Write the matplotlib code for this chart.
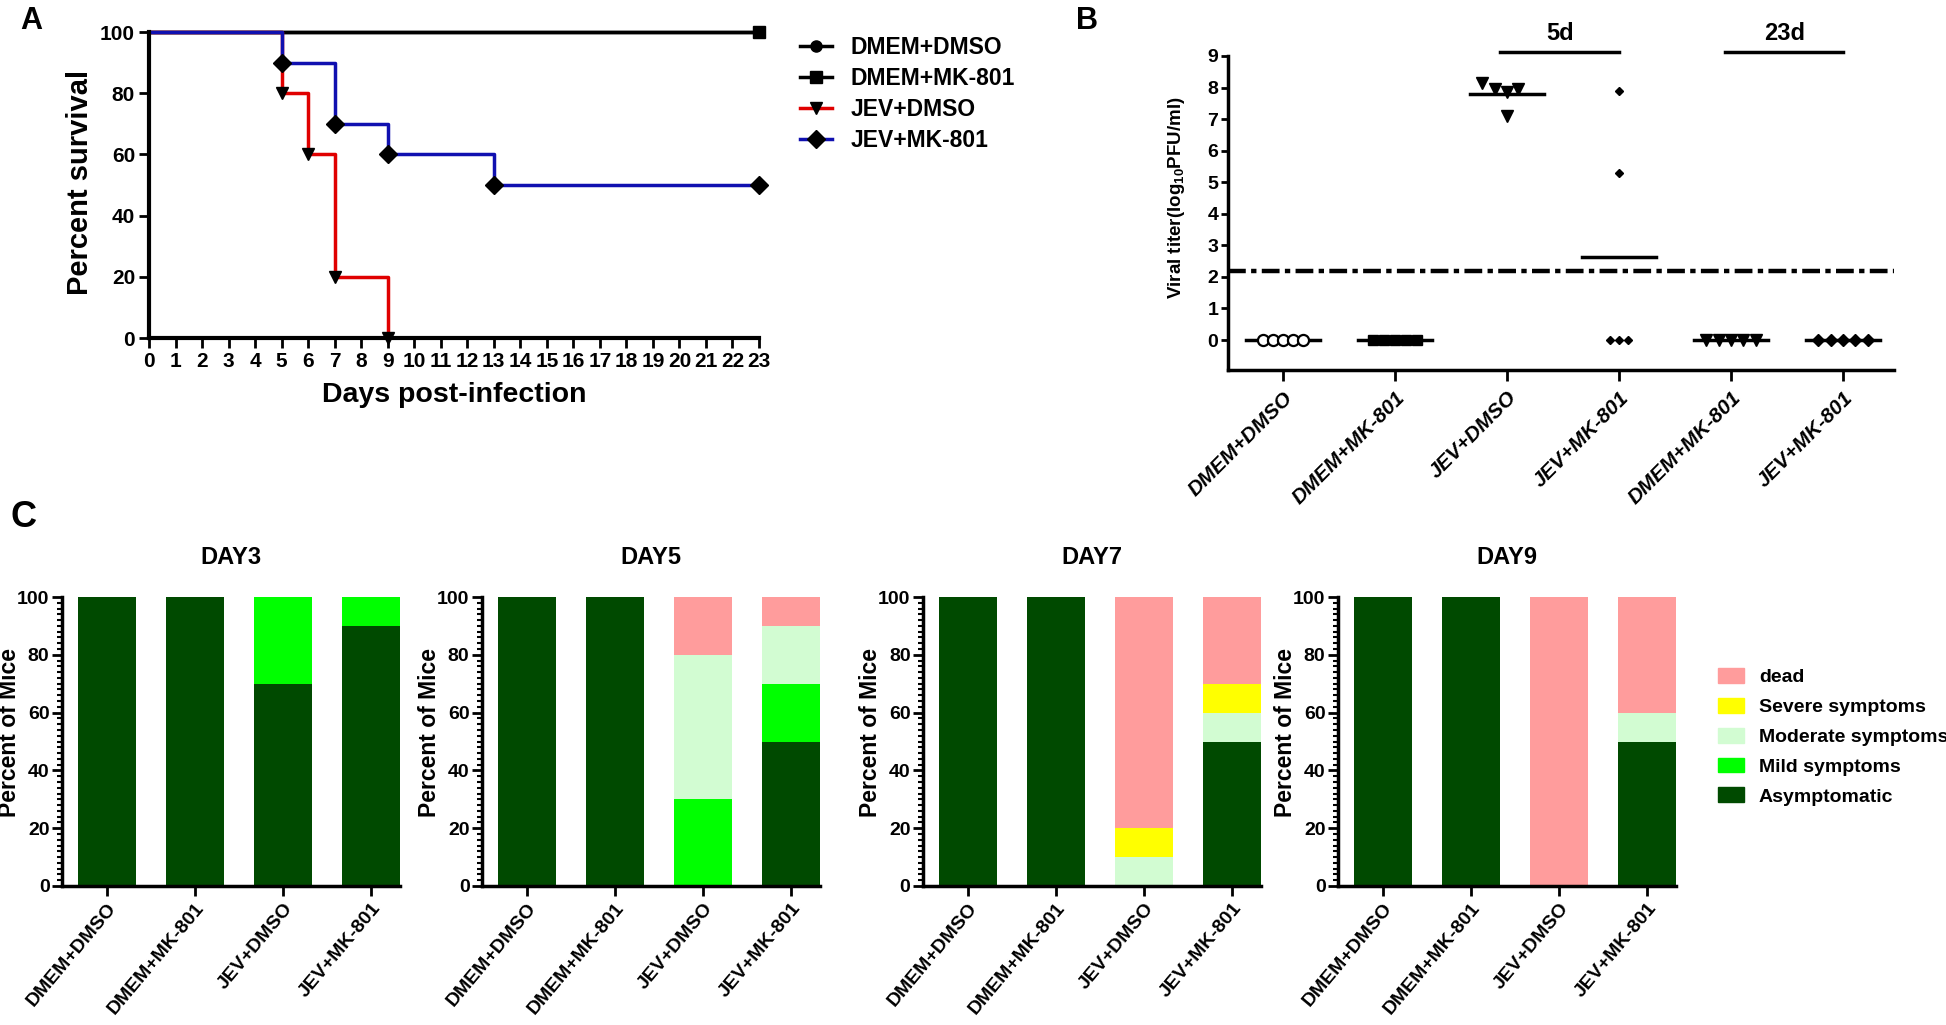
import matplotlib
matplotlib.use('Agg')
import matplotlib.pyplot as plt
import numpy as np
from matplotlib.patches import Patch
from matplotlib.lines import Line2D

plt.rcParams['font.family'] = 'Liberation Sans'
plt.rcParams['font.weight'] = 'bold'
plt.rcParams['axes.labelweight'] = 'bold'
plt.rcParams['axes.titleweight'] = 'bold'
plt.rcParams['mathtext.fontset'] = 'custom'
plt.rcParams['mathtext.rm'] = 'Liberation Sans:bold'
plt.rcParams['mathtext.bf'] = 'Liberation Sans:bold'

# ---- panel A: survival ----
surv_labels = ['DMEM+DMSO', 'DMEM+MK-801', 'JEV+DMSO', 'JEV+MK-801']
dmem_dmso_t = [0, 23]
dmem_dmso_s = [100, 100]
dmem_mk_t = [0, 23]
dmem_mk_s = [100, 100]
jev_dmso_t = [0, 5, 6, 7, 9]
jev_dmso_s = [100, 80, 60, 20, 0]
jev_mk_t = [0, 5, 7, 9, 13, 23]
jev_mk_s = [100, 90, 70, 60, 50, 50]

# ---- panel B: viral titer ----
titer_groups = ['DMEM+DMSO', 'DMEM+MK-801', 'JEV+DMSO', 'JEV+MK-801', 'DMEM+MK-801', 'JEV+MK-801']
titer_dmem_dmso_5d = [0, 0, 0, 0, 0]
titer_dmem_mk_5d = [0, 0, 0, 0, 0]
titer_jev_dmso_5d = [8.15, 7.95, 7.85, 7.95, 7.1]
titer_jev_mk_5d = [7.9, 5.3, 0, 0, 0]
titer_dmem_mk_23d = [0, 0, 0, 0, 0]
titer_jev_mk_23d = [0, 0, 0, 0, 0]
detection_limit = 2.2

# ---- panel C: symptoms (rows = day, cols = group) ----
days = ['DAY3', 'DAY5', 'DAY7', 'DAY9']
groups = ['DMEM+DMSO', 'DMEM+MK-801', 'JEV+DMSO', 'JEV+MK-801']
asymptomatic = [[100, 100, 70, 90], [100, 100, 0, 50], [100, 100, 0, 50], [100, 100, 0, 50]]
mild = [[0, 0, 30, 10], [0, 0, 30, 20], [0, 0, 0, 0], [0, 0, 0, 0]]
moderate = [[0, 0, 0, 0], [0, 0, 50, 20], [0, 0, 10, 10], [0, 0, 0, 10]]
severe = [[0, 0, 0, 0], [0, 0, 0, 0], [0, 0, 10, 10], [0, 0, 0, 0]]
dead = [[0, 0, 0, 0], [0, 0, 20, 10], [0, 0, 80, 30], [0, 0, 100, 40]]
symptom_names = ['Asymptomatic', 'Mild symptoms', 'Moderate symptoms', 'Severe symptoms', 'dead']
symptom_colors = ['#004a00', '#00ff00', '#d2fcd2', '#ffff00', '#ff9c9c']

W, H = 1946, 1025


def box(l, t, r, b):
    return [l / W, 1 - b / H, (r - l) / W, (b - t) / H]


def bold_ticks(ax):
    for t in ax.get_xticklabels() + ax.get_yticklabels():
        t.set_fontweight('bold')


fig = plt.figure(figsize=(W / 100, H / 100), dpi=100)

# ================= A =================
axA = fig.add_axes(box(149, 32, 759, 338))
axA.step(dmem_dmso_t, dmem_dmso_s, where='post', color='black', lw=2.5, clip_on=False)
axA.step(dmem_mk_t, dmem_mk_s, where='post', color='black', lw=2.5, clip_on=False)
axA.step(jev_dmso_t, jev_dmso_s, where='post', color='#e00000', lw=2.5, clip_on=False)
axA.step(jev_mk_t, jev_mk_s, where='post', color='#1010b0', lw=2.5, clip_on=False)
axA.plot(dmem_dmso_t[1:], dmem_dmso_s[1:], 'o', color='black', ms=8, clip_on=False)
axA.plot(dmem_mk_t[1:], dmem_mk_s[1:], 's', color='black', ms=9, clip_on=False)
axA.plot(jev_dmso_t[1:], jev_dmso_s[1:], 'v', color='black', ms=9, clip_on=False, zorder=5)
axA.plot(jev_mk_t[1:], jev_mk_s[1:], 'D', color='black', ms=9, clip_on=False, zorder=5)
axA.set_xlim(0, 23)
axA.set_ylim(0, 100)
axA.set_xticks(range(24))
axA.set_yticks(range(0, 101, 20))
for s in ['top', 'right']:
    axA.spines[s].set_visible(False)
for s in ['left', 'bottom']:
    axA.spines[s].set_linewidth(3)
axA.tick_params(direction='out', length=7, width=2, labelsize=15, pad=3)
bold_ticks(axA)
axA.set_xlabel('Days post-infection', fontsize=20.5, labelpad=8)
axA.set_ylabel('Percent survival', fontsize=21, va='center')
axA.yaxis.set_label_coords(-0.113, 0.507)

handles = [
    Line2D([], [], color='black', lw=2.5, marker='o', ms=8),
    Line2D([], [], color='black', lw=2.5, marker='s', ms=9),
    Line2D([], [], color='#e00000', lw=2.5, marker='v', mfc='black', mec='black', ms=9),
    Line2D([], [], color='#1010b0', lw=2.5, marker='D', mfc='black', mec='black', ms=9),
]
fig.legend(handles, surv_labels, loc='upper left', bbox_to_anchor=(800 / W, 1 - 36 / H),
           frameon=False, fontsize=16.5, handlelength=1.4, handletextpad=0.8,
           labelspacing=0.35, borderpad=0, borderaxespad=0)

# ================= B =================
axB = fig.add_axes(box(1228, 56, 1894, 370))
series = [titer_dmem_dmso_5d, titer_dmem_mk_5d, titer_jev_dmso_5d,
          titer_jev_mk_5d, titer_dmem_mk_23d, titer_jev_mk_23d]
offsets = [[-0.18, -0.09, 0, 0.09, 0.18],
           [-0.2, -0.1, 0, 0.1, 0.2],
           [-0.22, -0.11, 0, 0.1, 0],
           [0, 0, -0.08, 0, 0.08],
           [-0.22, -0.11, 0, 0.11, 0.22],
           [-0.22, -0.11, 0, 0.11, 0.22]]
styles = [dict(marker='o', mfc='white', mec='black', ms=8, mew=1.6),
          dict(marker='s', color='black', ms=7),
          dict(marker='v', color='black', ms=8),
          dict(marker='D', color='black', ms=4.5),
          dict(marker='v', color='black', ms=8),
          dict(marker='D', color='black', ms=6)]
for i, vals in enumerate(series):
    m = np.mean(vals)
    axB.plot([i - 0.33, i + 0.33], [m, m], color='black', lw=2.5, zorder=2)
    axB.plot(np.array(offsets[i]) + i, vals, ls='none', zorder=3, **styles[i])
axB.axhline(detection_limit, color='black', lw=3.2, ls=(0, (4, 1.2, 1.2, 1.2)), zorder=1)
axB.set_xlim(-0.49, 5.455)
axB.set_ylim(-0.95, 9)
axB.set_yticks(range(0, 10))
axB.set_xticks(range(6))
axB.set_xticklabels(titer_groups, rotation=45, ha='right', rotation_mode='anchor',
                    style='italic', fontsize=15)
for s in ['top', 'right']:
    axB.spines[s].set_visible(False)
for s in ['left', 'bottom']:
    axB.spines[s].set_linewidth(2.5)
axB.tick_params(axis='y', direction='out', length=5, width=2, labelsize=14, pad=2)
axB.tick_params(axis='x', direction='out', length=8, width=2, pad=5)
bold_ticks(axB)
axB.set_ylabel(r'Viral titer(log$_{10}$PFU/ml)', fontsize=13.5, va='center')
axB.yaxis.set_label_coords(-0.078, 0.55)
for x0, x1, txt in [(1.94, 3.0, '5d'), (3.95, 5.0, '23d')]:
    axB.plot([x0, x1], [9.13, 9.13], color='black', lw=2.5, clip_on=False)
    axB.text((x0 + x1) / 2, 9.35, txt, ha='center', va='bottom', fontsize=17)

# ================= C =================
c_lefts = [62, 482, 923, 1338]
for d, day in enumerate(days):
    ax = fig.add_axes(box(c_lefts[d], 597, c_lefts[d] + 338, 886))
    x = np.arange(len(groups))
    bottom = np.zeros(len(groups))
    for layer, col in zip([asymptomatic, mild, moderate, severe, dead], symptom_colors):
        v = np.array(layer[d], dtype=float)
        ax.bar(x, v, 0.66, bottom=bottom, color=col, edgecolor='none')
        bottom += v
    ax.set_xlim(-0.51, 3.33)
    ax.set_ylim(0, 100)
    ax.set_yticks(range(0, 101, 20))
    ax.set_yticks(range(0, 101, 2), minor=True)
    ax.set_xticks(x)
    ax.set_xticklabels(groups, rotation=50, ha='right', rotation_mode='anchor', fontsize=14)
    for s in ['top', 'right']:
        ax.spines[s].set_visible(False)
    for s in ['left', 'bottom']:
        ax.spines[s].set_linewidth(2.5)
    ax.tick_params(axis='y', which='major', direction='out', length=7, width=2, labelsize=14, pad=2)
    ax.tick_params(axis='y', which='minor', direction='out', length=3.5, width=1.5)
    ax.tick_params(axis='x', direction='out', length=7, width=2, pad=3)
    bold_ticks(ax)
    ax.set_ylabel('Percent of Mice', fontsize=16.5, va='center')
    ax.yaxis.set_label_coords(-0.155, 0.53)
    ax.set_title(day, fontsize=17, pad=24)

leg_handles = [Patch(color=c) for c in symptom_colors][::-1]
fig.legend(leg_handles, symptom_names[::-1], loc='upper left', bbox_to_anchor=(1718 / W, 1 - 668 / H),
           frameon=False, fontsize=14, handlelength=1.35, handleheight=0.8, handletextpad=0.75,
           labelspacing=0.6, borderpad=0, borderaxespad=0)

fig.text(20 / W, 1 - 6 / H, 'A', fontsize=22, va='top', ha='left')
fig.text(1076 / W, 1 - 6 / H, 'B', fontsize=22, va='top', ha='left')
fig.text(11 / W, 1 - 500 / H, 'C', fontsize=26, va='top', ha='left')

fig.savefig('out.png', dpi=100)
